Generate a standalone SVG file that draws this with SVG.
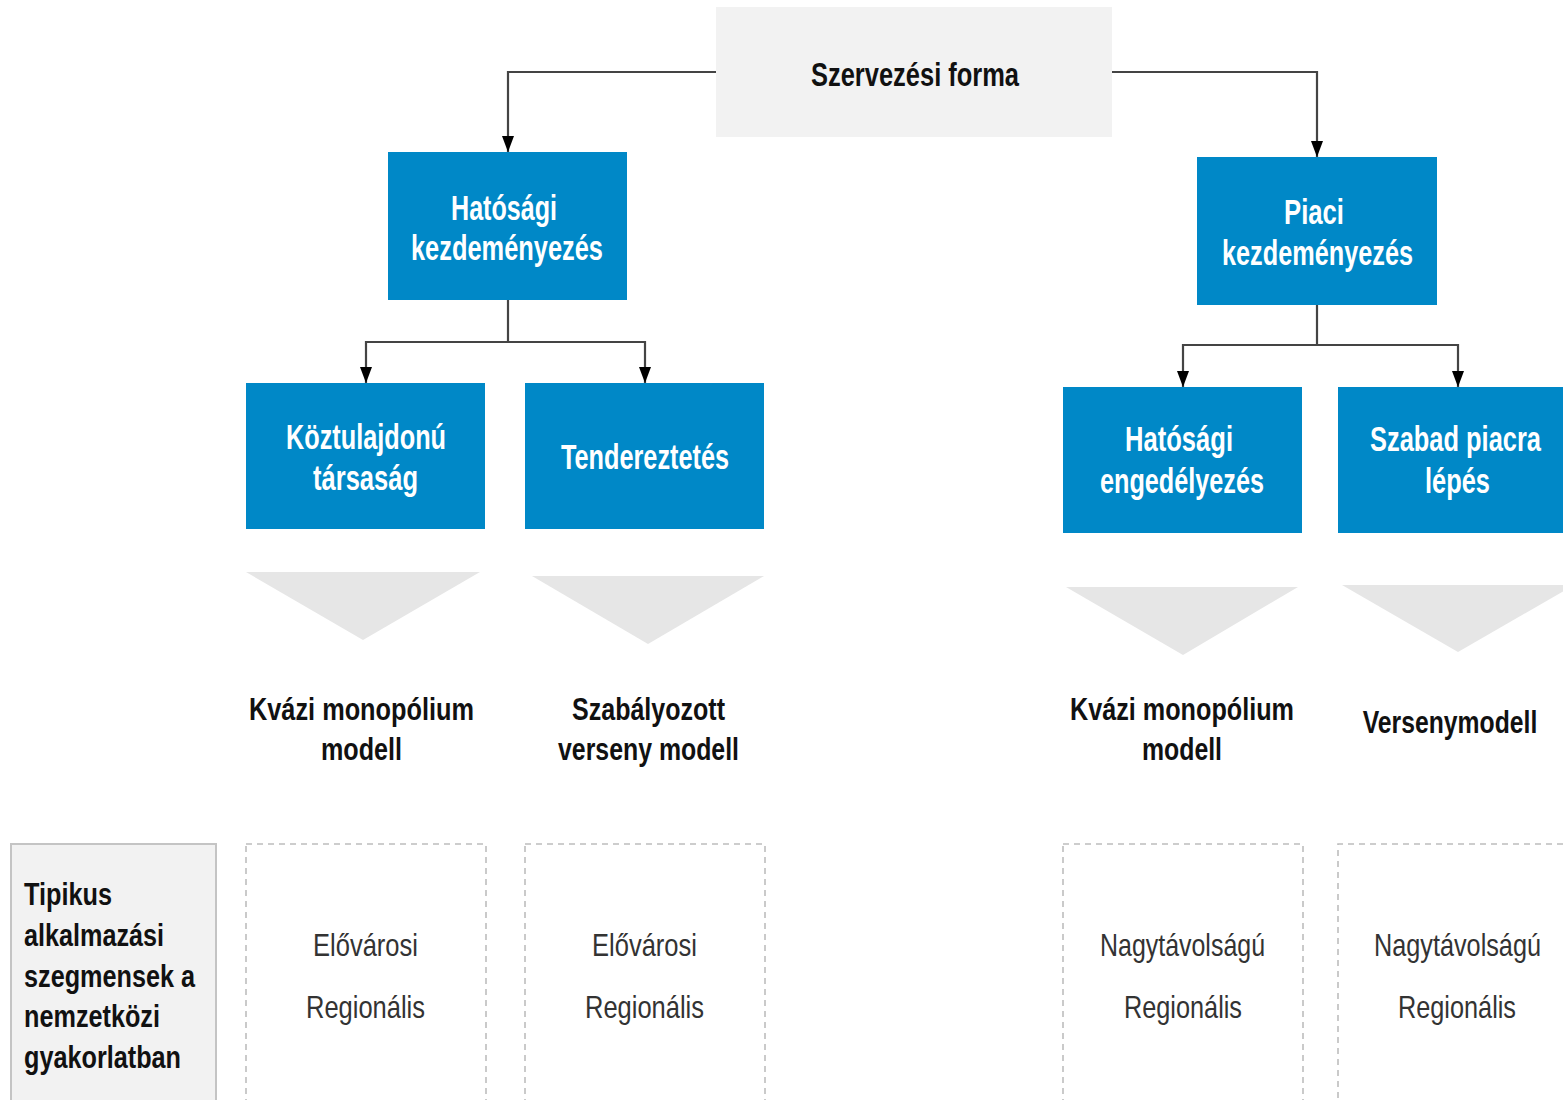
<svg xmlns="http://www.w3.org/2000/svg" width="1563" height="1100" viewBox="0 0 1563 1100">
<defs>
<style>
.blue{fill:#0088c7}
.bt{fill:#ffffff;font-family:"Liberation Sans",Arial,sans-serif;font-size:35px;font-weight:bold;text-anchor:middle}
.lbl{fill:#111111;font-family:"Liberation Sans",Arial,sans-serif;font-size:31px;font-weight:bold;text-anchor:middle}
.seg{fill:#333333;font-family:"Liberation Sans",Arial,sans-serif;font-size:32px;text-anchor:middle}
.side{fill:#111111;font-family:"Liberation Sans",Arial,sans-serif;font-size:32px;font-weight:bold}
.tri{fill:#e6e6e6}
.dash{fill:none;stroke:#bdbdbd;stroke-width:1.6;stroke-dasharray:6 5}
.conn path{fill:none;stroke:#444444;stroke-width:2.2}
</style>
<marker id="ah" markerUnits="userSpaceOnUse" markerWidth="16" markerHeight="12" viewBox="0 0 16 12" refX="16" refY="6" orient="auto">
<path d="M0,0 L16,6 L0,12 z" fill="#000000"/>
</marker>
</defs>
<rect width="1563" height="1100" fill="#ffffff"/>

<g id="connectors" class="conn">
<path d="M716,72 H508 V152" marker-end="url(#ah)"/>
<path d="M1112,72 H1317 V157" marker-end="url(#ah)"/>
<path d="M508,300 V342 H366 V383" marker-end="url(#ah)"/>
<path d="M508,342 H645 V383" marker-end="url(#ah)"/>
<path d="M1317,305 V345 H1183 V387" marker-end="url(#ah)"/>
<path d="M1317,345 H1458 V387" marker-end="url(#ah)"/>
</g>

<g id="node-szervezesi-forma">
<rect x="716" y="7" width="396" height="130" fill="#f2f2f2"/>
<text x="915" y="86" class="lbl" style="font-size:33px" textLength="208" lengthAdjust="spacingAndGlyphs">Szervezési forma</text>
</g>

<g id="node-hatosagi-kezdemenyezes">
<rect x="388" y="152" width="239" height="148" class="blue"/>
<text x="504" y="220" class="bt" textLength="106" lengthAdjust="spacingAndGlyphs">Hatósági</text>
<text x="507" y="260" class="bt" textLength="192" lengthAdjust="spacingAndGlyphs">kezdeményezés</text>
</g>

<g id="node-piaci-kezdemenyezes">
<rect x="1197" y="157" width="240" height="148" class="blue"/>
<text x="1314" y="224" class="bt" textLength="60" lengthAdjust="spacingAndGlyphs">Piaci</text>
<text x="1317.5" y="265" class="bt" textLength="191" lengthAdjust="spacingAndGlyphs">kezdeményezés</text>
</g>

<g id="node-koztulajdonu">
<rect x="246" y="383" width="239" height="146" class="blue"/>
<text x="366" y="449" class="bt" textLength="160" lengthAdjust="spacingAndGlyphs">Köztulajdonú</text>
<text x="365.5" y="490" class="bt" textLength="105" lengthAdjust="spacingAndGlyphs">társaság</text>
</g>

<g id="node-tendereztetes">
<rect x="525" y="383" width="239" height="146" class="blue"/>
<text x="645" y="469" class="bt" textLength="168" lengthAdjust="spacingAndGlyphs">Tendereztetés</text>
</g>

<g id="node-hatosagi-engedelyezes">
<rect x="1063" y="387" width="239" height="146" class="blue"/>
<text x="1179" y="451" class="bt" textLength="108" lengthAdjust="spacingAndGlyphs">Hatósági</text>
<text x="1182" y="493" class="bt" textLength="164" lengthAdjust="spacingAndGlyphs">engedélyezés</text>
</g>

<g id="node-szabad-piacra">
<rect x="1338" y="387" width="225" height="146" class="blue"/>
<text class="bt" transform="translate(1455.5,451) scale(0.7265,1)">Szabad piacra</text>
<text class="bt" transform="translate(1457.5,493) scale(0.726,1)">lépés</text>
</g>

<g id="chevrons">
<polygon class="tri" points="246,572 480,572 363,640"/>
<polygon class="tri" points="532,576 764,576 648,644"/>
<polygon class="tri" points="1066,587 1298,587 1183,655"/>
<polygon class="tri" points="1342,585 1563,585 1563,591.5 1458,652"/>
</g>

<g id="model-1">
<text x="361.5" y="720" class="lbl" textLength="225" lengthAdjust="spacingAndGlyphs">Kvázi monopólium</text>
<text x="361.5" y="760" class="lbl" textLength="81" lengthAdjust="spacingAndGlyphs">modell</text>
</g>
<g id="model-2">
<text x="648.5" y="720" class="lbl" textLength="153" lengthAdjust="spacingAndGlyphs">Szabályozott</text>
<text x="648.5" y="760" class="lbl" textLength="181" lengthAdjust="spacingAndGlyphs">verseny modell</text>
</g>
<g id="model-3">
<text x="1182" y="720" class="lbl" textLength="224" lengthAdjust="spacingAndGlyphs">Kvázi monopólium</text>
<text x="1182" y="760" class="lbl" textLength="80" lengthAdjust="spacingAndGlyphs">modell</text>
</g>
<g id="model-4">
<text class="lbl" transform="translate(1450,733) scale(0.798,1)">Versenymodell</text>
</g>

<g id="node-tipikus">
<rect x="11" y="844" width="205" height="270" fill="#f2f2f2" stroke="#c4c4c4" stroke-width="2"/>
<text x="24" y="905" class="side" textLength="88" lengthAdjust="spacingAndGlyphs">Tipikus</text>
<text x="24" y="946" class="side" textLength="140" lengthAdjust="spacingAndGlyphs">alkalmazási</text>
<text x="24" y="987" class="side" textLength="171" lengthAdjust="spacingAndGlyphs">szegmensek a</text>
<text x="24" y="1027" class="side" textLength="136" lengthAdjust="spacingAndGlyphs">nemzetközi</text>
<text x="24" y="1068" class="side" textLength="157" lengthAdjust="spacingAndGlyphs">gyakorlatban</text>
</g>

<g id="segment-1">
<rect x="246" y="844" width="240" height="270" class="dash"/>
<text x="365.5" y="956" class="seg" textLength="105" lengthAdjust="spacingAndGlyphs">Elővárosi</text>
<text x="365.5" y="1018" class="seg" textLength="119" lengthAdjust="spacingAndGlyphs">Regionális</text>
</g>
<g id="segment-2">
<rect x="525" y="844" width="240" height="270" class="dash"/>
<text x="644.5" y="956" class="seg" textLength="105" lengthAdjust="spacingAndGlyphs">Elővárosi</text>
<text x="644.5" y="1018" class="seg" textLength="119" lengthAdjust="spacingAndGlyphs">Regionális</text>
</g>
<g id="segment-3">
<rect x="1063" y="844" width="240" height="270" class="dash"/>
<text x="1182.5" y="956" class="seg" textLength="165" lengthAdjust="spacingAndGlyphs">Nagytávolságú</text>
<text x="1183" y="1018" class="seg" textLength="118" lengthAdjust="spacingAndGlyphs">Regionális</text>
</g>
<g id="segment-4">
<path d="M1563,844 H1338 V1114" class="dash"/>
<text class="seg" transform="translate(1457.5,956) scale(0.789,1)">Nagytávolságú</text>
<text x="1457" y="1018" class="seg" textLength="118" lengthAdjust="spacingAndGlyphs">Regionális</text>
</g>
</svg>
